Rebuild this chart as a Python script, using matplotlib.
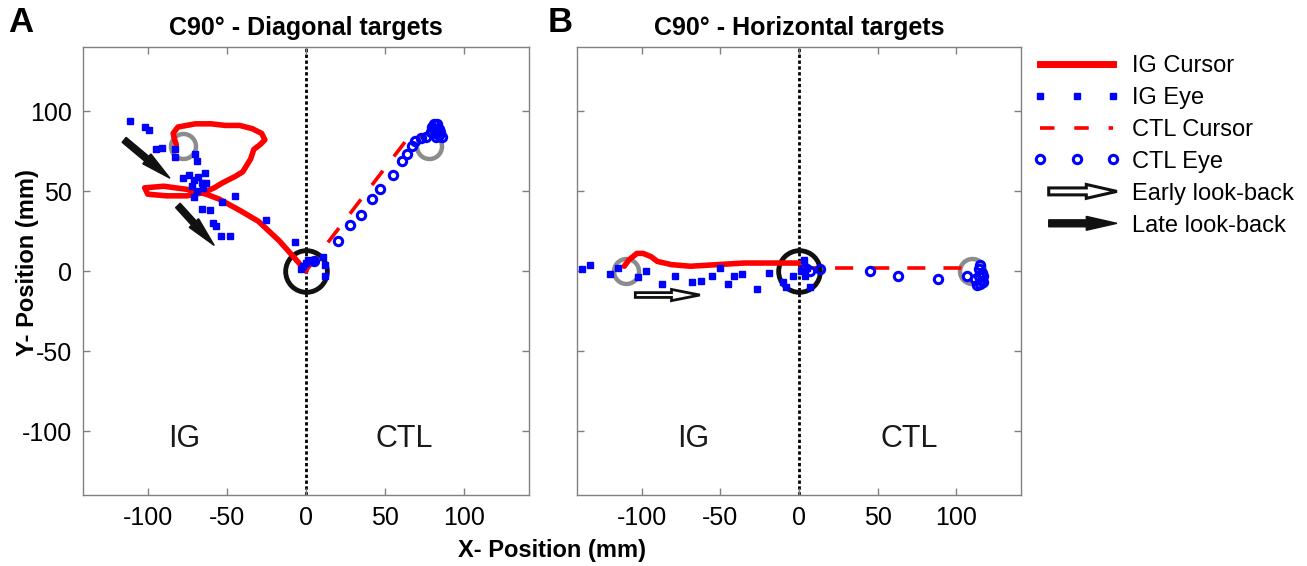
import matplotlib
matplotlib.use('Agg')
import matplotlib.pyplot as plt
import matplotlib.patches as mpatches
from matplotlib.lines import Line2D
from matplotlib.legend_handler import HandlerPatch

plt.rcParams['font.family'] = ['Liberation Sans', 'DejaVu Sans']
plt.rcParams['font.size'] = 18
plt.rcParams['axes.unicode_minus'] = False

# ---- panel A : diagonal targets ----
ig_cur_a_x = [0, -8, -17, -30, -42, -55, -63, -75, -90, -102, -100, -88, -75, -65, -58, -53,
              -45, -40, -35, -33, -29, -26, -28, -34, -42, -51, -60, -70, -81, -84, -83, -82]
ig_cur_a_y = [0, 9, 19, 31, 38, 45, 48, 51, 53, 52, 48, 47, 47, 49, 52, 55,
              59, 62, 70, 76, 79, 82, 86, 89, 91, 91, 92, 92, 90, 86, 82, 79]
ig_eye_a_x = [-111, -102, -99, -95, -91, -83, -83, -69, -70, -78, -74, -71, -68, -64, -66, -72,
              -69, -65, -63, -71, -66, -61, -53, -45, -59, -57, -54, -48, -25, -7, 0, 1, 5,
              12, 12, 11, -3, -2]
ig_eye_a_y = [94, 90, 88, 76, 77, 76, 71, 69, 73, 58, 60, 57, 59, 61, 55, 53,
              50, 52, 55, 46, 39, 38, 43, 47, 30, 28, 22, 22, 32, 18, 5, 7, 6,
              4, -3, 9, 1, 3]
ctl_cur_a_x = [0, 66, 75]
ctl_cur_a_y = [0, 85, 84]
ctl_eye_a_x = [5, 20, 28, 35, 42, 47, 55, 61, 64, 67, 69, 73, 76, 79, 81, 83, 84, 86, 82, 80,
               83, 85, 82, 84]
ctl_eye_a_y = [6, 19, 29, 35, 45, 51, 60, 69, 73, 78, 81, 83, 84, 87, 92, 92, 89, 84, 86, 90,
               88, 87, 84, 85]
targets_a_x = [-78, 78]
targets_a_y = [78, 78]
late_arrows_a = [(-115, 82, -86, 58), (-81, 41, -58, 16)]

# ---- panel B : horizontal targets ----
ig_cur_b_x = [0, -18, -35, -52, -69, -81, -90, -94, -99, -103, -108, -111]
ig_cur_b_y = [5, 5, 5, 4, 3, 4, 6, 9, 11, 11, 7, 3]
ig_eye_b_x = [-138, -133, -120, -115, -102, -97, -87, -79, -68, -62, -55, -50, -45, -41, -36,
              -27, -19, -10, -8, -4, 3, 5, 7, 1, 4]
ig_eye_b_y = [1, 4, -2, 2, -4, 0, -8, -3, -7, -6, -3, 2, -8, -3, -2,
              -11, -1, -7, -10, -3, 7, 2, -10, 0, -3]
ctl_cur_b_x = [0, 110]
ctl_cur_b_y = [2, 2]
ctl_eye_b_x = [4, 7, 13, 45, 63, 88, 107, 114, 116, 113, 117, 115, 112, 116, 114, 117, 115]
ctl_eye_b_y = [2, 0, 1, 0, -3, -5, -3, 1, -6, -9, -3, 4, -5, -1, -3, -7, -8]
targets_b_x = [-110, 110]
targets_b_y = [0, 0]
early_arrows_b = [(-104, -15, -63, -15)]

labels_b = ['IG Cursor', 'IG Eye', 'CTL Cursor', 'CTL Eye', 'Early look-back', 'Late look-back']

fig = plt.figure(figsize=(13.07, 5.66), dpi=100)
ax1 = fig.add_axes([0.0635, 0.1254, 0.3412, 0.7915])
ax2 = fig.add_axes([0.4415, 0.1254, 0.3397, 0.7915])

red = '#ff0000'
blue = '#0000ff'


def draw_panel(ax, ig_cx, ig_cy, ig_ex, ig_ey, ctl_cx, ctl_cy, ctl_ex, ctl_ey, tx, ty):
    ax.axvline(0, color='black', lw=2, ls=(0, (1.2, 0.9)), zorder=1)
    ax.plot(tx, ty, 'o', ms=18, mfc='none', mec='#8c8c8c', mew=3.2, zorder=2)
    ax.plot([0], [0], 'o', ms=30, mfc='none', mec='#111111', mew=3.5, zorder=2)
    ax.plot(ig_cx, ig_cy, '-', color=red, lw=4, solid_capstyle='round', zorder=3)
    ax.plot(ig_ex, ig_ey, 's', ls='none', color=blue, ms=4, zorder=4)
    ax.plot(ctl_cx, ctl_cy, color=red, lw=2.6, ls=(0, (5, 5)), zorder=3)
    ax.plot(ctl_ex, ctl_ey, 'o', ls='none', mfc='none', mec=blue, ms=6, mew=2.2, zorder=4)


draw_panel(ax1, ig_cur_a_x, ig_cur_a_y, ig_eye_a_x, ig_eye_a_y,
           ctl_cur_a_x, ctl_cur_a_y, ctl_eye_a_x, ctl_eye_a_y, targets_a_x, targets_a_y)
draw_panel(ax2, ig_cur_b_x, ig_cur_b_y, ig_eye_b_x, ig_eye_b_y,
           ctl_cur_b_x, ctl_cur_b_y, ctl_eye_b_x, ctl_eye_b_y, targets_b_x, targets_b_y)

for x0, y0, x1, y1 in late_arrows_a:
    ax1.add_patch(mpatches.FancyArrow(x0, y0, x1 - x0, y1 - y0, width=4, head_width=8,
                                      head_length=19, length_includes_head=True,
                                      fc='#111111', ec='#111111', lw=1, zorder=5))
for x0, y0, x1, y1 in early_arrows_b:
    ax2.add_patch(mpatches.FancyArrow(x0, y0, x1 - x0, y1 - y0, width=3, head_width=7,
                                      head_length=18, length_includes_head=True,
                                      fc='white', ec='#111111', lw=2, zorder=5))

for ax, title, ig_x, ctl_x in [(ax1, 'C90\u00b0 - Diagonal targets', -77, 62),
                               (ax2, 'C90\u00b0 - Horizontal targets', -67, 70)]:
    ax.set_xlim(-141, 141)
    ax.set_ylim(-140, 140)
    ax.set_xticks([-100, -50, 0, 50, 100])
    ax.set_yticks([-100, -50, 0, 50, 100])
    ax.tick_params(direction='in', length=5, width=1, color='#808080', top=True, right=True,
                   labelsize=18, pad=8)
    for s in ax.spines.values():
        s.set_color('#808080')
        s.set_linewidth(1)
    ax.text(ig_x, -105, 'IG', fontsize=22, ha='center', va='center', color='#1a1a1a')
    ax.text(ctl_x, -105, 'CTL', fontsize=22, ha='center', va='center', color='#1a1a1a')
    ax.set_title(title, fontsize=18, fontweight='bold', pad=9)

ax2.set_yticklabels([])
ax1.set_ylabel('Y- Position (mm)', fontsize=17, fontweight='bold')
ax1.yaxis.set_label_coords(-0.098, 0.52)
fig.text(552 / 1307, 1 - 551 / 566, 'X- Position (mm)', fontsize=17, fontweight='bold',
         ha='center', va='center')
fig.text(21 / 1307, 1 - 22 / 566, 'A', fontsize=25, fontweight='bold', ha='center', va='center')
fig.text(560 / 1307, 1 - 22 / 566, 'B', fontsize=25, fontweight='bold', ha='center', va='center')


def arrow_handle(legend, orig_handle, xdescent, ydescent, width, height, fontsize):
    return mpatches.FancyArrow(0.18 * width - xdescent, 0.5 * height - ydescent, 0.78 * width, 0,
                               width=5, head_width=10, head_length=22, length_includes_head=True)


handles = [
    Line2D([], [], color=red, lw=5),
    Line2D([], [], ls='none', marker='s', color=blue, ms=4),
    Line2D([], [], color=red, lw=2.6, ls=(0, (4, 5.5))),
    Line2D([], [], ls='none', marker='o', mfc='none', mec=blue, ms=6, mew=2.2),
    mpatches.Patch(facecolor='white', edgecolor='#111111', linewidth=2.2),
    mpatches.Patch(facecolor='#111111', edgecolor='#111111', linewidth=1),
]
fig.legend(handles, labels_b, loc='upper left', bbox_to_anchor=(1033 / 1307, 1 - 55 / 566),
           frameon=False, fontsize=17, handlelength=3.7, numpoints=3, labelspacing=0.42,
           handletextpad=0.5, borderpad=0, borderaxespad=0,
           handler_map={mpatches.Patch: HandlerPatch(patch_func=arrow_handle)})

plt.savefig('out.png', dpi=100)
